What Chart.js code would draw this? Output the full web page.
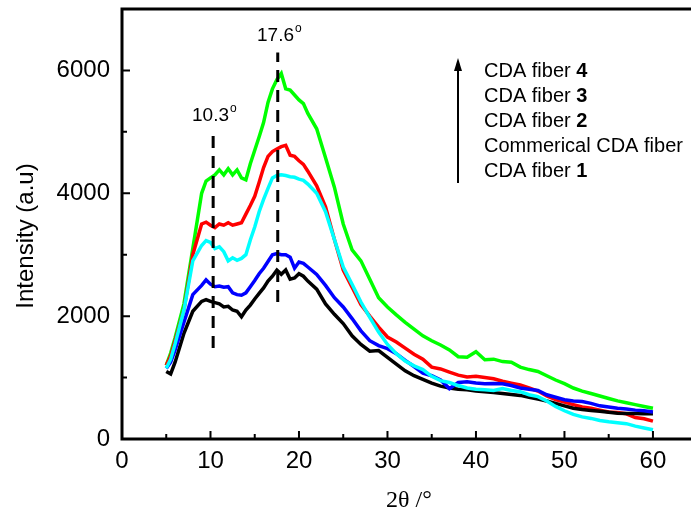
<!DOCTYPE html>
<html>
<head>
<meta charset="utf-8">
<script src="https://cdn.jsdelivr.net/npm/chart.js@4/dist/chart.umd.min.js"></script>
<style>
  html, body { margin: 0; padding: 0; background: #fff; }
  #wrap { width: 691px; height: 516px; }
</style>
</head>
<body>
<div id="wrap"><canvas id="xrd"></canvas></div>
<script>
// 2θ positions (deg) shared by all curves
const angles = [5, 5.5, 6, 7, 8, 9,
  9.5, 10, 10.5, 11, 11.5, 12, 12.5, 13, 13.5, 14, 14.5, 15, 15.5, 16, 16.5, 17, 17.5, 18, 18.5, 19, 19.5, 20, 20.5, 21,
  22, 23, 24, 25, 26, 27, 28, 29, 30, 31, 32, 33, 34, 35, 36, 37, 38, 39, 40, 41,
  42, 43, 44, 45, 46, 47, 48, 49, 50, 51, 52, 53, 54, 55, 56, 57, 58, 59, 60];

const fiber4 = [1200, 1400, 1650, 2200, 3100, 4000,
  4200, 4250, 4300, 4380, 4300, 4400, 4300, 4380, 4250, 4220, 4480, 4700, 4920, 5150, 5480, 5700, 5850, 5950, 5700, 5680, 5600, 5520, 5460, 5300,
  5050, 4580, 4100, 3500, 3080, 2900, 2600, 2300, 2150, 2020, 1900, 1790, 1680, 1600, 1530, 1450, 1340, 1330, 1420, 1290,
  1300, 1260, 1250, 1170, 1130, 1100, 1030, 960, 900, 830, 780, 740, 700, 660, 620, 590, 560, 530, 500];

const fiber3 = [1200, 1350, 1600, 2100, 3000, 3500,
  3530, 3480, 3440, 3500, 3480, 3520, 3480, 3500, 3520, 3660, 3800, 3950, 4180, 4420, 4600, 4680, 4720, 4760, 4780, 4620, 4600, 4530, 4470, 4360,
  4120, 3780, 3250, 2750, 2470, 2190, 2000, 1820, 1660, 1580, 1480, 1380, 1300, 1170, 1140, 1090, 1040, 1010, 1020, 1000,
  980, 940, 910, 880, 830, 780, 700, 640, 600, 560, 520, 500, 470, 440, 430, 410, 350, 330, 290];

const commercial = [1150, 1300, 1550, 2100, 2900, 3150,
  3230, 3200, 3100, 3130, 3050, 2900, 2950, 2910, 2940, 3000, 3240, 3450, 3700, 3900, 4080, 4250, 4290, 4300, 4290, 4270, 4260, 4230, 4210, 4150,
  4000, 3700, 3250, 2800, 2520, 2230, 1980, 1740, 1540, 1390, 1270, 1190, 1130, 1020, 950, 920, 870, 830, 810, 800,
  790, 820, 790, 770, 720, 690, 620, 530, 460, 400, 360, 335, 300, 280, 265, 250, 210, 180, 150];

const fiber2 = [1150, 1250, 1450, 1900, 2350, 2500,
  2590, 2520, 2480, 2490, 2470, 2480, 2380, 2350, 2340, 2380, 2480, 2580, 2690, 2780, 2890, 3000, 3020, 3000, 3000, 2960, 2780, 2880, 2860, 2800,
  2680, 2500, 2300, 2150, 1960, 1760, 1600, 1520, 1470, 1390, 1280, 1180, 1070, 1030, 960, 820, 920, 930, 910, 900,
  905, 900, 870, 830, 810, 790, 720, 680, 640, 620, 610, 580, 540, 520, 500, 490, 470, 460, 440];

const fiber1 = [1100, 1060, 1250, 1720, 2080, 2240,
  2270, 2240, 2220, 2200, 2150, 2160, 2100, 2080, 1990, 2100, 2180, 2280, 2370, 2460, 2570, 2650, 2750, 2680, 2750, 2600, 2620, 2690, 2650, 2570,
  2440, 2200, 2030, 1880, 1680, 1540, 1430, 1440, 1330, 1220, 1110, 1030, 970, 910, 860, 830, 810, 800, 780, 770,
  755, 740, 725, 710, 680, 650, 620, 580, 540, 500, 480, 465, 450, 435, 420, 415, 415, 410, 410];

// peak markers: position and vertical extent of the dashed lines
const peakAngles = [10.3, 17.6];
const peakLow = [1480, 2230];
const peakHigh = [4950, 6290];

const xTicks = [0, 10, 20, 30, 40, 50, 60];
const yTicks = [0, 2000, 4000, 6000];

const legendLines = [
  ['CDA fiber ', '4'],
  ['CDA fiber ', '3'],
  ['CDA fiber ', '2'],
  ['Commerical CDA fiber', ''],
  ['CDA fiber ', '1']
];

const SANS = '"Liberation Sans", Arial, sans-serif';

function pts(ys) {
  return angles.map((a, i) => ({ x: a, y: ys[i] }));
}

function curve(label, ys, color) {
  return { label, data: pts(ys), borderColor: color, borderWidth: 3.5, pointRadius: 0, tension: 0, fill: false };
}

function peakLine(i) {
  return {
    label: 'peak ' + peakAngles[i],
    data: [{ x: peakAngles[i], y: peakLow[i] }, { x: peakAngles[i], y: peakHigh[i] }],
    borderColor: '#000', borderWidth: 3, borderDash: [12, 8], pointRadius: 0, fill: false
  };
}

// ── Frame, minor ticks and text ──────────────────────────────────────────────
const decor = {
  id: 'decor',
  afterDraw(chart) {
    const { ctx, chartArea: a, scales: { x, y } } = chart;
    ctx.save();
    ctx.strokeStyle = '#000';
    ctx.fillStyle = '#000';

    ctx.lineWidth = 3;
    ctx.beginPath();
    ctx.moveTo(a.right, a.top);
    ctx.lineTo(a.left, a.top);
    ctx.lineTo(a.left, a.bottom);
    ctx.lineTo(a.right, a.bottom);
    ctx.stroke();

    ctx.lineWidth = 2;
    ctx.beginPath();
    for (let v = 0; v <= 60; v += 5) {
      const px = x.getPixelForValue(v);
      const len = v % 10 === 0 ? 8 : 5;
      ctx.moveTo(px, a.bottom);
      ctx.lineTo(px, a.bottom - len);
    }
    for (let v = 0; v <= 6000; v += 1000) {
      const py = y.getPixelForValue(v);
      const len = v % 2000 === 0 ? 8 : 5;
      ctx.moveTo(a.left, py);
      ctx.lineTo(a.left + len, py);
    }
    ctx.stroke();

    // peak labels
    ctx.textBaseline = 'alphabetic';
    ctx.textAlign = 'left';
    const labelPos = [[192, 121], [257, 41]];
    peakAngles.forEach((p, i) => {
      const [lx, ly] = labelPos[i];
      ctx.font = '19px ' + SANS;
      const t = p.toFixed(1);
      ctx.fillText(t, lx, ly);
      const w = ctx.measureText(t).width;
      ctx.font = '12px ' + SANS;
      ctx.fillText('o', lx + w + 1, ly - 9);
    });

    // arrow
    ctx.lineWidth = 2;
    ctx.beginPath();
    ctx.moveTo(458, 183);
    ctx.lineTo(458, 68);
    ctx.stroke();
    ctx.beginPath();
    ctx.moveTo(458, 58);
    ctx.lineTo(454, 71);
    ctx.lineTo(462, 71);
    ctx.closePath();
    ctx.fill();

    // legend text
    legendLines.forEach((ln, i) => {
      const ty = 76.5 + i * 25;
      ctx.font = '20px ' + SANS;
      ctx.fillText(ln[0], 484, ty);
      const w = ctx.measureText(ln[0]).width;
      ctx.font = 'bold 20px ' + SANS;
      ctx.fillText(ln[1], 484 + w, ty);
    });

    // axis titles
    ctx.font = '24px "Liberation Serif", "Times New Roman", serif';
    ctx.textAlign = 'center';
    ctx.fillText('2\u03b8 /\u00b0', 409, 507);

    ctx.save();
    ctx.translate(33, 236);
    ctx.rotate(-Math.PI / 2);
    ctx.font = '24px ' + SANS;
    ctx.fillText('Intensity (a.u)', 0, 0);
    ctx.restore();

    ctx.restore();
  }
};

new Chart(document.getElementById('xrd'), {
  type: 'line',
  data: {
    datasets: [
      peakLine(0),
      peakLine(1),
      curve('Commerical CDA fiber', commercial, '#00ffff'),
      curve('CDA fiber 2', fiber2, '#0000ff'),
      curve('CDA fiber 1', fiber1, '#000000'),
      curve('CDA fiber 3', fiber3, '#ff0000'),
      curve('CDA fiber 4', fiber4, '#00ff00')
    ]
  },
  options: {
    responsive: true,
    maintainAspectRatio: false,
    animation: false,
    layout: { padding: { top: 9, left: 0, right: 0, bottom: 0 } },
    plugins: { legend: { display: false }, tooltip: { enabled: false } },
    scales: {
      x: {
        type: 'linear',
        min: 0,
        max: 64.3,
        grid: { display: false, drawTicks: false },
        border: { display: false },
        afterBuildTicks: s => { s.ticks = xTicks.map(v => ({ value: v })); },
        afterFit: s => { s.height = 77; s.paddingLeft = 0; s.paddingRight = 0; },
        ticks: { color: '#000', padding: 8, autoSkip: false, maxRotation: 0, font: { family: SANS, size: 24 }, callback: v => String(v) }
      },
      y: {
        min: 0,
        max: 7000,
        grid: { display: false, drawTicks: false },
        border: { display: false },
        afterBuildTicks: s => { s.ticks = yTicks.map(v => ({ value: v })); },
        afterFit: s => { s.width = 122; s.paddingTop = 0; s.paddingBottom = 0; },
        ticks: { color: '#000', padding: 12, font: { family: SANS, size: 24 }, callback: v => String(v) }
      }
    }
  },
  plugins: [decor]
});
</script>
</body>
</html>
